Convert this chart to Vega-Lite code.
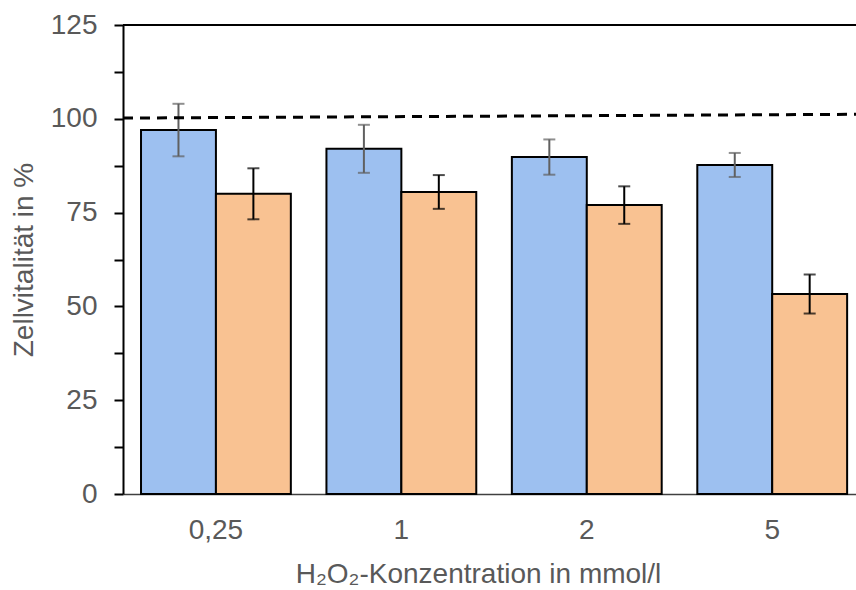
{
  "$schema": "https://vega.github.io/schema/vega-lite/v6.json",
  "autosize": "none",
  "width": 733,
  "height": 469,
  "padding": {"left": 123, "top": 25, "right": 0, "bottom": 96},
  "background": "white",
  "config": {
    "view": {"stroke": null},
    "font": "Liberation Sans",
    "axis": {
      "labelFont": "Liberation Sans",
      "titleFont": "Liberation Sans",
      "labelColor": "#595959",
      "titleColor": "#595959",
      "labelFontSize": 28,
      "titleFontSize": 28,
      "titleFontWeight": "normal",
      "grid": false
    }
  },
  "datasets": {
    "bars": [
      {"conc": "0,25", "serie": "Serie 1", "wert": 97.0, "fehler": 7.0},
      {"conc": "0,25", "serie": "Serie 2", "wert": 80.0, "fehler": 6.8},
      {"conc": "1", "serie": "Serie 1", "wert": 92.0, "fehler": 6.4},
      {"conc": "1", "serie": "Serie 2", "wert": 80.5, "fehler": 4.5},
      {"conc": "2", "serie": "Serie 1", "wert": 89.8, "fehler": 4.7},
      {"conc": "2", "serie": "Serie 2", "wert": 77.0, "fehler": 5.0},
      {"conc": "5", "serie": "Serie 1", "wert": 87.7, "fehler": 3.2},
      {"conc": "5", "serie": "Serie 2", "wert": 53.3, "fehler": 5.2}
    ],
    "referenz": [
      {"pos": 0, "wert": 100.2},
      {"pos": 1, "wert": 101.2}
    ],
    "rahmen": [
      {"wert": 125}
    ]
  },
  "layer": [
    {
      "data": {"name": "bars"},
      "transform": [
        {"calculate": "datum.wert - datum.fehler", "as": "unten"},
        {"calculate": "datum.wert + datum.fehler", "as": "oben"}
      ],
      "encoding": {
        "x": {
          "field": "conc",
          "type": "nominal",
          "sort": ["0,25", "1", "2", "5"],
          "scale": {"paddingInner": 0.192, "paddingOuter": 0.0725, "align": 0.67},
          "axis": {
            "title": "H₂O₂-Konzentration in mmol/l",
            "labelAngle": 0,
            "ticks": false,
            "domainColor": "#404040",
            "domainWidth": 1.5,
            "labelPadding": 22,
            "titlePadding": 16,
            "titleX": 355
          }
        },
        "xOffset": {
          "field": "serie",
          "type": "nominal",
          "scale": {"paddingInner": 0, "paddingOuter": 0}
        }
      },
      "layer": [
        {
          "mark": {"type": "bar", "stroke": "#000000", "strokeWidth": 2},
          "encoding": {
            "y": {
              "field": "wert",
              "type": "quantitative",
              "scale": {"domain": [0, 125], "nice": false},
              "axis": {
                "title": "Zellvitalität in %",
                "values": [0, 12.5, 25, 37.5, 50, 62.5, 75, 87.5, 100, 112.5, 125],
                "labelExpr": "datum.value % 25 == 0 ? datum.label : ''",
                "labelOverlap": false,
                "domainColor": "#000000",
                "domainWidth": 2,
                "tickColor": "#000000",
                "tickWidth": 2,
                "tickSize": 9,
                "labelPadding": 17,
                "titlePadding": 12
              }
            },
            "color": {
              "field": "serie",
              "type": "nominal",
              "scale": {"domain": ["Serie 1", "Serie 2"], "range": ["#9DC0F0", "#F9C292"]},
              "legend": null
            }
          }
        },
        {
          "mark": {"type": "rule", "strokeWidth": 2},
          "encoding": {
            "y": {"field": "unten", "type": "quantitative"},
            "y2": {"field": "oben"},
            "stroke": {
              "field": "serie",
              "type": "nominal",
              "scale": {"domain": ["Serie 1", "Serie 2"], "range": ["#606060", "#000000"]},
              "legend": null
            }
          }
        },
        {
          "mark": {"type": "tick", "orient": "horizontal", "size": 12, "thickness": 2},
          "encoding": {
            "y": {"field": "unten", "type": "quantitative"},
            "fill": {
              "field": "serie",
              "type": "nominal",
              "scale": {"domain": ["Serie 1", "Serie 2"], "range": ["#606060", "#000000"]},
              "legend": null
            }
          }
        },
        {
          "mark": {"type": "tick", "orient": "horizontal", "size": 12, "thickness": 2},
          "encoding": {
            "y": {"field": "oben", "type": "quantitative"},
            "fill": {
              "field": "serie",
              "type": "nominal",
              "scale": {"domain": ["Serie 1", "Serie 2"], "range": ["#606060", "#000000"]},
              "legend": null
            }
          }
        }
      ]
    },
    {
      "data": {"name": "rahmen"},
      "mark": {"type": "rule", "stroke": "#000000", "strokeWidth": 2},
      "encoding": {
        "y": {"field": "wert", "type": "quantitative"}
      }
    },
    {
      "data": {"name": "referenz"},
      "mark": {"type": "line", "stroke": "#000000", "strokeWidth": 3, "strokeDash": [10, 7]},
      "encoding": {
        "x": {"field": "pos", "type": "quantitative", "scale": {"domain": [0, 1], "nice": false, "zero": false}, "axis": null},
        "y": {"field": "wert", "type": "quantitative"}
      }
    }
  ],
  "resolve": {"scale": {"x": "independent"}}
}
